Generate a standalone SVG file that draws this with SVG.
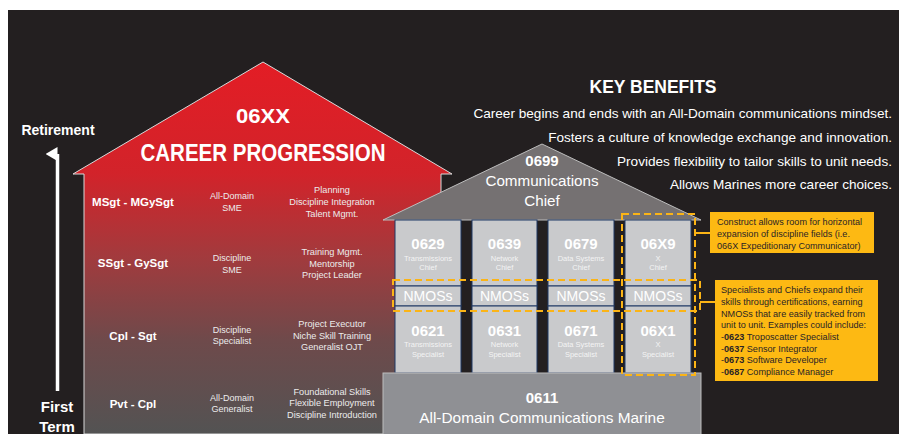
<svg xmlns="http://www.w3.org/2000/svg" width="899" height="434" viewBox="0 0 899 434">
  <defs>
    <linearGradient id="houseFill" gradientUnits="userSpaceOnUse" x1="0" y1="62" x2="0" y2="434">
      <stop offset="0" stop-color="#e31d25"/>
      <stop offset="0.3" stop-color="#d2232a"/>
      <stop offset="0.52" stop-color="#a33a3d"/>
      <stop offset="0.75" stop-color="#6e4a4b"/>
      <stop offset="1" stop-color="#535353"/>
    </linearGradient>
    <marker id="arrowUp" viewBox="0 0 14 12" refX="7" refY="12" markerWidth="14" markerHeight="12" markerUnits="userSpaceOnUse" orient="auto-start-reverse">
      <path d="M0,12 L7,0 L14,12 Z" fill="#ffffff"/>
    </marker>
  </defs>
  <style>
    text { font-family: "Liberation Sans", Arial, sans-serif; }
    .w { fill: #ffffff; }
    .b { font-weight: bold; }
    .c { text-anchor: middle; }
    .rank { fill: #ffffff; font-weight: bold; font-size: 11.5px; text-anchor: middle; }
    .role { fill: #ececec; font-size: 9px; text-anchor: middle; }
    .duty { fill: #ececec; font-size: 9.2px; text-anchor: middle; }
    .col { fill: #c9cacc; stroke: #1f3864; stroke-width: 1; }
    .code { fill: #ffffff; font-weight: bold; font-size: 15px; text-anchor: middle; }
    .sub { fill: #f4f4f4; font-size: 7.5px; text-anchor: middle; }
    .nmos { fill: #ffffff; font-size: 14px; text-anchor: middle; }
    .benefit { fill: #ffffff; font-size: 13.6px; text-anchor: end; }
    .note { fill: #fdb913; }
    .notetext { fill: #2a2426; font-size: 9.1px; }
    .dash { fill: none; stroke: #fbb416; stroke-width: 2; stroke-dasharray: 7 4; }
    .lead { fill: none; stroke: #fbb416; stroke-width: 2; }
  </style>

  <!-- page and dark panel -->
  <rect x="0" y="0" width="899" height="434" fill="#ffffff"/>
  <rect x="8" y="10" width="891" height="424" fill="#231f20"/>

  <!-- time axis -->
  <g id="time-axis">
    <text x="58" y="135" class="w b c" font-size="14">Retirement</text>
    <line x1="57.5" y1="391" x2="57.5" y2="154" stroke="#ffffff" stroke-width="3.5" marker-end="url(#arrowUp)"/>
    <text x="57" y="411.5" class="w b c" font-size="15">First</text>
    <text x="57" y="431.5" class="w b c" font-size="15">Term</text>
  </g>

  <!-- career progression house -->
  <g id="career-house">
    <polygon points="73,174 263,62 452,174 441,174 441,434 84,434 84,174" fill="url(#houseFill)" stroke="#d9d9d9" stroke-width="1"/>
    <text x="263" y="122.5" class="w b c" font-size="21" textLength="54" lengthAdjust="spacingAndGlyphs">06XX</text>
    <text x="263" y="160.5" class="w b c" font-size="23" textLength="245" lengthAdjust="spacingAndGlyphs">CAREER PROGRESSION</text>
  </g>

  <g id="tier-msgt">
    <text x="133" y="206" class="rank">MSgt - MGySgt</text>
    <text x="232" y="199.3" class="role">All-Domain</text>
    <text x="232" y="211.3" class="role">SME</text>
    <text x="332" y="193.3" class="duty">Planning</text>
    <text x="332" y="205.3" class="duty">Discipline Integration</text>
    <text x="332" y="217.1" class="duty">Talent Mgmt.</text>
  </g>
  <g id="tier-ssgt">
    <text x="133" y="267" class="rank">SSgt - GySgt</text>
    <text x="232" y="261.3" class="role">Discipline</text>
    <text x="232" y="272.5" class="role">SME</text>
    <text x="332" y="255.3" class="duty">Training Mgmt.</text>
    <text x="332" y="266.5" class="duty">Mentorship</text>
    <text x="332" y="278.3" class="duty">Project Leader</text>
  </g>
  <g id="tier-cpl">
    <text x="133" y="340" class="rank">Cpl - Sgt</text>
    <text x="232" y="333.3" class="role">Discipline</text>
    <text x="232" y="344.3" class="role">Specialist</text>
    <text x="332" y="327.3" class="duty">Project Executor</text>
    <text x="332" y="339" class="duty">Niche Skill Training</text>
    <text x="332" y="350" class="duty">Generalist OJT</text>
  </g>
  <g id="tier-pvt">
    <text x="133" y="408" class="rank">Pvt - Cpl</text>
    <text x="232" y="401.3" class="role">All-Domain</text>
    <text x="232" y="412.3" class="role">Generalist</text>
    <text x="332" y="395.3" class="duty">Foundational Skills</text>
    <text x="332" y="406.3" class="duty">Flexible Employment</text>
    <text x="332" y="418" class="duty">Discipline Introduction</text>
  </g>

  <!-- communications building -->
  <g id="chief-roof">
    <polygon points="383,220 542,144 701,220" fill="#757172" stroke="#bdbdbd" stroke-width="1"/>
    <text x="542" y="166.4" class="code">0699</text>
    <text x="542" y="185.8" class="w c" font-size="15.2">Communications</text>
    <text x="542" y="206" class="w c" font-size="15.2">Chief</text>
  </g>

  <g id="col-0629">
    <rect x="395" y="220" width="66" height="66" class="col"/>
    <text x="428" y="249.4" class="code">0629</text>
    <text x="428" y="261" class="sub">Transmissions</text>
    <text x="428" y="270.4" class="sub">Chief</text>
  </g>
  <g id="col-0639">
    <rect x="472" y="220" width="65" height="66" class="col"/>
    <text x="504.5" y="249.4" class="code">0639</text>
    <text x="504.5" y="261" class="sub">Network</text>
    <text x="504.5" y="270.4" class="sub">Chief</text>
  </g>
  <g id="col-0679">
    <rect x="548" y="220" width="66" height="66" class="col"/>
    <text x="581" y="249.4" class="code">0679</text>
    <text x="581" y="261" class="sub">Data Systems</text>
    <text x="581" y="270.4" class="sub">Chief</text>
  </g>
  <g id="col-06X9">
    <rect x="625" y="220" width="66" height="66" class="col"/>
    <text x="658" y="249.4" class="code">06X9</text>
    <text x="658" y="261" class="sub">X</text>
    <text x="658" y="270.4" class="sub">Chief</text>
  </g>

  <g id="nmos-row">
    <rect x="395" y="286" width="66" height="20" class="col"/>
    <text x="428" y="300.7" class="nmos">NMOSs</text>
    <rect x="472" y="286" width="65" height="20" class="col"/>
    <text x="504.5" y="300.7" class="nmos">NMOSs</text>
    <rect x="548" y="286" width="66" height="20" class="col"/>
    <text x="581" y="300.7" class="nmos">NMOSs</text>
    <rect x="625" y="286" width="66" height="20" class="col"/>
    <text x="658" y="300.7" class="nmos">NMOSs</text>
  </g>

  <g id="col-0621">
    <rect x="395" y="306" width="66" height="67" class="col"/>
    <text x="428" y="336.4" class="code">0621</text>
    <text x="428" y="346.7" class="sub">Transmissions</text>
    <text x="428" y="356.7" class="sub">Specialist</text>
  </g>
  <g id="col-0631">
    <rect x="472" y="306" width="65" height="67" class="col"/>
    <text x="504.5" y="336.4" class="code">0631</text>
    <text x="504.5" y="346.7" class="sub">Network</text>
    <text x="504.5" y="356.7" class="sub">Specialist</text>
  </g>
  <g id="col-0671">
    <rect x="548" y="306" width="66" height="67" class="col"/>
    <text x="581" y="336.4" class="code">0671</text>
    <text x="581" y="346.7" class="sub">Data Systems</text>
    <text x="581" y="356.7" class="sub">Specialist</text>
  </g>
  <g id="col-06X1">
    <rect x="625" y="306" width="66" height="67" class="col"/>
    <text x="658" y="336.4" class="code">06X1</text>
    <text x="658" y="346.7" class="sub">X</text>
    <text x="658" y="356.7" class="sub">Specialist</text>
  </g>

  <g id="base-0611">
    <rect x="383" y="373" width="318" height="62" fill="#8f9094" stroke="#bdbdbd" stroke-width="1"/>
    <text x="542" y="403.4" class="code">0611</text>
    <text x="542" y="423" class="w c" font-size="15.4">All-Domain Communications Marine</text>
  </g>

  <!-- key benefits -->
  <g id="key-benefits">
    <text x="653" y="92.5" class="w b c" font-size="18" textLength="127" lengthAdjust="spacingAndGlyphs">KEY BENEFITS</text>
    <text x="892" y="117.5" class="benefit">Career begins and ends with an All-Domain communications mindset.</text>
    <text x="892" y="141.5" class="benefit">Fosters a culture of knowledge exchange and innovation.</text>
    <text x="892" y="165.5" class="benefit">Provides flexibility to tailor skills to unit needs.</text>
    <text x="892" y="188.5" class="benefit">Allows Marines more career choices.</text>
  </g>

  <!-- dashed highlight frames -->
  <g id="highlight-frames">
    <rect x="622" y="214" width="73" height="161" class="dash"/>
    <rect x="393" y="280" width="307" height="31" class="dash"/>
  </g>

  <!-- note boxes -->
  <g id="note-expansion">
    <rect x="710" y="212" width="164" height="41" class="note"/>
    <text class="notetext">
      <tspan x="717" y="224.5">Construct allows room for horizontal</tspan>
      <tspan x="717" y="236.5">expansion of discipline fields (i.e.</tspan>
      <tspan x="717" y="248.5">066X Expeditionary Communicator)</tspan>
    </text>
  </g>
  <g id="note-nmos">
    <rect x="715" y="280" width="163" height="101" class="note"/>
    <text class="notetext">
      <tspan x="721" y="293.3">Specialists and Chiefs expand their</tspan>
      <tspan x="721" y="305">skills through certifications, earning</tspan>
      <tspan x="721" y="316.7">NMOSs that are easily tracked from</tspan>
      <tspan x="721" y="328.3">unit to unit. Examples could include:</tspan>
      <tspan x="721" y="340">-<tspan font-weight="bold">0623</tspan> Troposcatter Specialist</tspan>
      <tspan x="721" y="351.7">-<tspan font-weight="bold">0637</tspan> Sensor Integrator</tspan>
      <tspan x="721" y="363.3">-<tspan font-weight="bold">0673</tspan> Software Developer</tspan>
      <tspan x="721" y="375">-<tspan font-weight="bold">0687</tspan> Compliance Manager</tspan>
    </text>
  </g>

  <!-- leader lines from frames to notes -->
  <g id="connectors">
    <line x1="695" y1="233" x2="710" y2="233" class="lead"/>
    <line x1="700" y1="302" x2="715" y2="302" class="lead"/>
  </g>
</svg>
